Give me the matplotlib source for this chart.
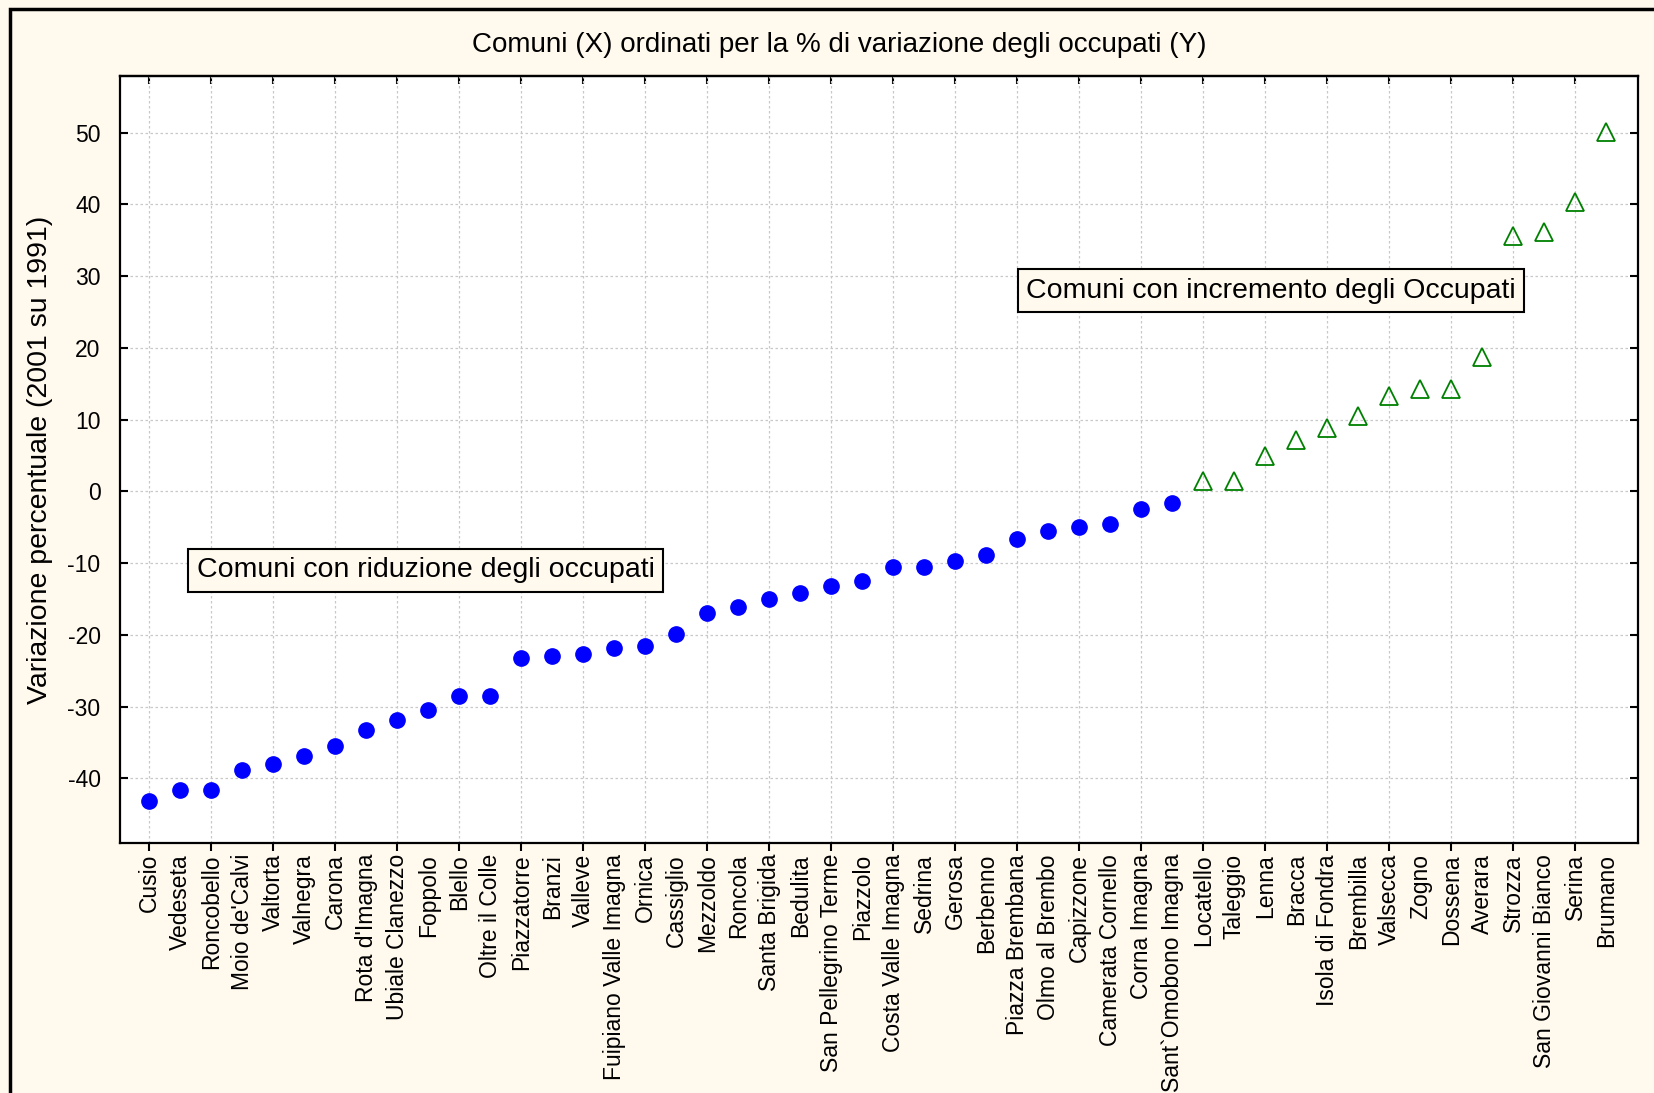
import matplotlib
matplotlib.use("Agg")
import matplotlib.pyplot as plt
from matplotlib.patches import Rectangle

plt.rcParams['font.family'] = ['Liberation Sans', 'DejaVu Sans']

comuni_riduzione = [
    "Cusio", "Vedeseta", "Roncobello", "Moio de'Calvi", "Valtorta", "Valnegra",
    "Carona", "Rota d'Imagna", "Ubiale Clanezzo", "Foppolo", "Blello",
    "Oltre il Colle", "Piazzatorre", "Branzi", "Valleve", "Fuipiano Valle Imagna",
    "Ornica", "Cassiglio", "Mezzoldo", "Roncola", "Santa Brigida", "Bedulita",
    "San Pellegrino Terme", "Piazzolo", "Costa Valle Imagna", "Sedrina", "Gerosa",
    "Berbenno", "Piazza Brembana", "Olmo al Brembo", "Capizzone",
    "Camerata Cornello", "Corna Imagna", "Sant`Omobono Imagna",
]
var_riduzione = [
    -43.2, -41.6, -41.6, -38.8, -38.0, -36.9, -35.5, -33.2, -31.9, -30.5, -28.5,
    -28.5, -23.2, -22.9, -22.6, -21.8, -21.5, -19.9, -16.9, -16.1, -15.0, -14.1,
    -13.2, -12.5, -10.5, -10.5, -9.7, -8.8, -6.6, -5.5, -4.9, -4.6, -2.4, -1.6,
]
comuni_incremento = [
    "Locatello", "Taleggio", "Lenna", "Bracca", "Isola di Fondra", "Brembilla",
    "Valsecca", "Zogno", "Dossena", "Averara", "Strozza", "San Giovanni Bianco",
    "Serina", "Brumano",
]
var_incremento = [
    1.5, 1.5, 4.9, 7.1, 8.8, 10.5, 13.3, 14.3, 14.3, 18.8, 35.6, 36.1, 40.4, 50.1,
]
y_ticks = [-40, -30, -20, -10, 0, 10, 20, 30, 40, 50]

title = "Comuni (X) ordinati per la % di variazione degli occupati (Y)"
ylabel = "Variazione percentuale (2001 su 1991)"
box_rid = "Comuni con riduzione degli occupati"
box_inc = "Comuni con incremento degli Occupati"

bg = "#FFF9EE"

fig = plt.figure(figsize=(16.54, 10.93), dpi=100)
fig.patch.set_facecolor(bg)
# outer frame (left/top visible)
fig.patches.append(Rectangle((10 / 1654, -0.05), 1.2, 1 - 9 / 1093 + 0.05,
                             transform=fig.transFigure, facecolor='none',
                             edgecolor='black', linewidth=2.5, zorder=0))

ax = fig.add_axes([120 / 1654, 1 - 843 / 1093, (1638 - 120) / 1654, (843 - 76) / 1093])
ax.set_facecolor('white')

names = comuni_riduzione + comuni_incremento
n1 = len(comuni_riduzione)
x1 = list(range(n1))
x2 = list(range(n1, n1 + len(comuni_incremento)))

ax.plot(x1, var_riduzione, linestyle='none', marker='o', markersize=11,
        color='#0000FF', zorder=3)
ax.plot(x2, var_incremento, linestyle='none', marker='^', markersize=12.5,
        markerfacecolor='none', markeredgecolor='#008000', markeredgewidth=1.3,
        zorder=3)

ax.set_xlim(-0.95, len(names) - 1 + 1.02)
ax.set_ylim(-49.0, 57.9)

ax.set_yticks(y_ticks)
ax.set_yticklabels([str(v) for v in y_ticks], fontsize=16.5)

even = list(range(0, len(names), 2))
ax.xaxis.remove_overlapping_locs = False
ax.set_xticks(even)
ax.set_xticklabels([])
ax.set_xticks(range(len(names)), minor=True)
ax.set_xticklabels(names, minor=True, rotation=90, fontsize=16.5)

ax.tick_params(axis='x', which='major', direction='out', length=6, width=1.5,
               top=False, bottom=True)
ax.tick_params(axis='x', which='minor', length=0, pad=8)
ax.tick_params(axis='y', which='major', direction='in', length=6, width=1.5,
               left=True, right=True, pad=14)

top = ax.secondary_xaxis('top')
top.set_xticks(even)
top.set_xticklabels([])
top.tick_params(direction='in', length=6, width=1.5)
top.spines['top'].set_linewidth(1.6)

ax.grid(True, which='major', color='#c8c8c8', linestyle=(0, (2, 2)), linewidth=0.9)
ax.set_axisbelow(True)

for s in ax.spines.values():
    s.set_linewidth(1.6)

ax.set_ylabel(ylabel, fontsize=20.5)
ax.yaxis.label.set_va('center')
ax.yaxis.set_label_coords((40 - 120) / 1518, 0.5)

fig.text(839 / 1654, 1 - 45 / 1093, title, ha='center', va='center', fontsize=20)

bbox = dict(boxstyle='square,pad=0.3', facecolor=bg, edgecolor='black', linewidth=1.5)
ax.text(8.92, -11.0, box_rid, ha='center', va='center', fontsize=20.5, bbox=bbox, zorder=4)
ax.text(36.18, 28.0, box_inc, ha='center', va='center', fontsize=20.5, bbox=bbox, zorder=4)

fig.savefig("out.png", dpi=100, facecolor=bg)
